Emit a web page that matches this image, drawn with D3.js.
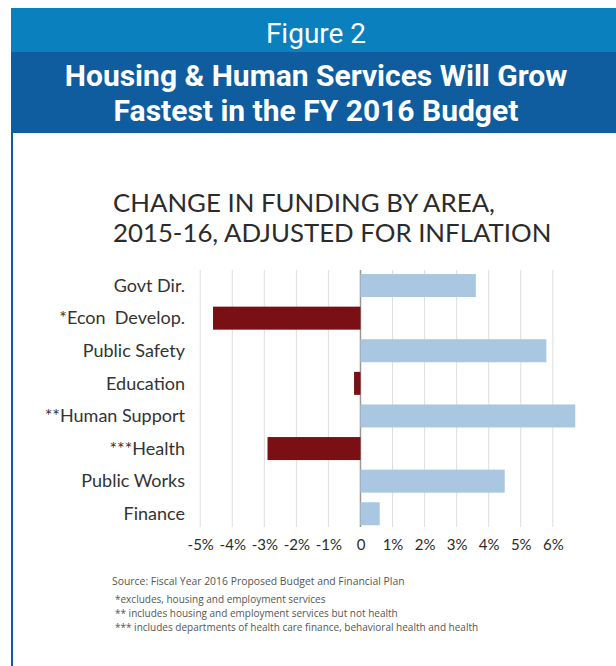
<!DOCTYPE html>
<html>
<head>
<meta charset="utf-8">
<script src="https://cdn.jsdelivr.net/npm/d3@7"></script>
<style>
  html, body { margin: 0; padding: 0; background: #fff; }
  svg { display: block; }
  text { white-space: pre; }
</style>
</head>
<body>
<svg id="chart" width="616" height="666"></svg>
<script>
// ---- data ----
const categories = ["Govt Dir.", "*Econ  Develop.", "Public Safety", "Education",
                    "**Human Support", "***Health", "Public Works", "Finance"];
const values = [3.6, -4.6, 5.8, -0.2, 6.7, -2.9, 4.5, 0.6];
const tickValues = [-5, -4, -3, -2, -1, 0, 1, 2, 3, 4, 5, 6];
const tickLabels = ["-5%", "-4%", "-3%", "-2%", "-1%", "0", "1%", "2%", "3%", "4%", "5%", "6%"];
const figureLabel = "Figure 2";
const headline = ["Housing & Human Services Will Grow", "Fastest in the FY 2016 Budget"];
const chartTitle = ["CHANGE IN FUNDING BY AREA,", "2015-16, ADJUSTED FOR INFLATION"];
const sourceNote = "Source: Fiscal Year 2016 Proposed Budget and Financial Plan";
const footnotes = ["*excludes, housing and employment services",
                   "** includes housing and employment services but not health",
                   "*** includes departments of health care finance, behavioral health and health"];

const data = categories.map((c, i) => ({ cat: c, val: values[i] }));

const svg = d3.select("#chart");
const W = 616, H = 666;

// ---- header bands ----
svg.append("rect").attr("x", 11).attr("y", 8).attr("width", W - 11).attr("height", 44).attr("fill", "#0a80bf");
svg.append("rect").attr("x", 11).attr("y", 52).attr("width", W - 11).attr("height", 81).attr("fill", "#0f5c9f");
svg.append("rect").attr("x", 11).attr("y", 133).attr("width", 2).attr("height", H - 133).attr("fill", "#0f5c9f");

const headFont = "'Roboto', sans-serif";
svg.append("text").attr("x", 316).attr("y", 43).attr("text-anchor", "middle")
  .attr("font-family", headFont).attr("font-size", 28).attr("fill", "#fff")
  .text(figureLabel);
svg.selectAll("text.headline").data(headline).enter().append("text")
  .attr("class", "headline")
  .attr("x", 316).attr("y", (d, i) => 86 + i * 35).attr("text-anchor", "middle")
  .attr("font-family", headFont).attr("font-weight", "bold").attr("font-size", 30).attr("fill", "#fff")
  .text(d => d);

// ---- chart title ----
const bodyFont = "'Lato', 'Open Sans', sans-serif";
svg.selectAll("text.ctitle").data(chartTitle).enter().append("text")
  .attr("class", "ctitle")
  .attr("x", 113).attr("y", (d, i) => 212 + i * 30)
  .attr("font-family", bodyFont).attr("font-size", 25.8).attr("fill", "#2b2b2b")
  .text(d => d);

// ---- scales ----
const x = d3.scaleLinear().domain([-5, 6]).range([200.2, 552.8]);
const y = d3.scaleBand().domain(categories).range([268.5, 530.8]).paddingInner(0.2945).paddingOuter(0.17);

const gridTop = 270, gridBottom = 527;

// gridlines
svg.append("g").selectAll("line").data(tickValues).enter().append("line")
  .attr("x1", d => x(d)).attr("x2", d => x(d))
  .attr("y1", gridTop).attr("y2", gridBottom)
  .attr("stroke", d => d === 0 ? "#999" : "#dedede")
  .attr("stroke-width", d => d === 0 ? 1.5 : 1);

// bars
svg.append("g").selectAll("rect").data(data).enter().append("rect")
  .attr("x", d => x(Math.min(0, d.val)))
  .attr("width", d => Math.abs(x(d.val) - x(0)))
  .attr("y", d => y(d.cat))
  .attr("height", y.bandwidth())
  .attr("fill", d => d.val < 0 ? "#7a0f14" : "#a9c7e1");

// category axis labels
const yAxis = d3.axisLeft(y).tickSize(0).tickPadding(0);
const gy = svg.append("g").attr("transform", "translate(185,0)").call(yAxis);
gy.select(".domain").remove();
gy.selectAll("text").attr("font-family", bodyFont).attr("font-size", 18).attr("fill", "#333")
  .attr("dy", "0.35em").style("white-space", "pre");

// x axis tick labels
const xAxis = d3.axisBottom(x).tickValues(tickValues).tickSize(0).tickPadding(0)
  .tickFormat((d, i) => tickLabels[i]);
const gx = svg.append("g").attr("transform", "translate(0,539)").call(xAxis);
gx.select(".domain").remove();
gx.selectAll("text").attr("font-family", bodyFont).attr("font-size", 15).attr("fill", "#2b2b2b");

// ---- source & footnotes ----
const noteFont = "'Open Sans', sans-serif";
svg.append("text").attr("x", 112).attr("y", 585)
  .attr("font-family", noteFont).attr("font-size", 10.4).attr("fill", "#555")
  .text(sourceNote);
svg.selectAll("text.fn").data(footnotes).enter().append("text")
  .attr("class", "fn")
  .attr("x", 115).attr("y", (d, i) => 603 + i * 14)
  .attr("font-family", noteFont).attr("font-size", 10).attr("fill", "#555")
  .text(d => d);
</script>
</body>
</html>
